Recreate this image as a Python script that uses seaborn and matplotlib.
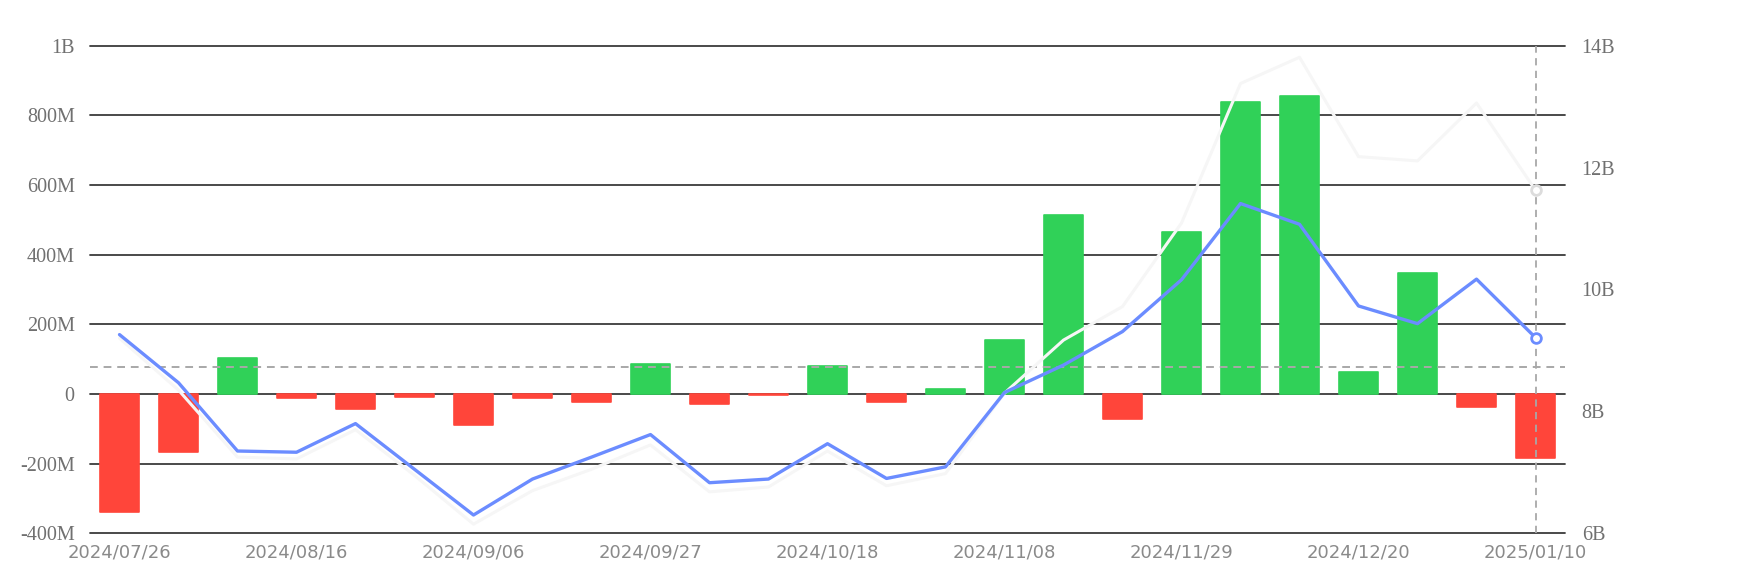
import matplotlib
matplotlib.use("Agg")
import matplotlib.pyplot as plt
import seaborn as sns
import pandas as pd
import numpy as np
from matplotlib.ticker import FixedLocator, FuncFormatter

dates = ["2024/07/26", "2024/08/02", "2024/08/09", "2024/08/16", "2024/08/23",
         "2024/08/30", "2024/09/06", "2024/09/13", "2024/09/20", "2024/09/27",
         "2024/10/04", "2024/10/11", "2024/10/18", "2024/10/25", "2024/11/01",
         "2024/11/08", "2024/11/15", "2024/11/22", "2024/11/29", "2024/12/06",
         "2024/12/13", "2024/12/20", "2024/12/27", "2025/01/03", "2025/01/10"]

# weekly net flow (millions)
net_flow_m = [-340, -167, 104, -12, -42, -10, -90, -11, -24, 85,
              -29, -3, 80, -22, 13, 156, 515, -73, 466, 837,
              855, 63, 348, -36, -183]

# blue line (billions, right axis)
blue_b = [9.26, 8.47, 7.35, 7.33, 7.80, 7.05, 6.30, 6.89, 7.25, 7.62,
          6.83, 6.89, 7.47, 6.90, 7.09, 8.31, 8.76, 9.31, 10.16, 11.41,
          11.07, 9.73, 9.44, 10.17, 9.21]

# light line (billions, right axis)
light_b = [9.20, 8.35, 7.25, 7.22, 7.70, 6.95, 6.15, 6.70, 7.05, 7.45,
           6.68, 6.76, 7.35, 6.78, 6.98, 8.30, 9.17, 9.72, 11.09, 13.38,
           13.81, 12.18, 12.11, 13.06, 11.63]

avg_line_m = 77

left_ticks_m = [-400, -200, 0, 200, 400, 600, 800, 1000]
right_ticks_b = [6, 8, 10, 12, 14]

GREEN = "#30D158"
RED = "#FF453A"
BLUE = "#6B8CFF"

sns.set_theme(style="white")
plt.rcParams["font.family"] = ["DejaVu Sans"]

df = pd.DataFrame({"date": dates, "flow": net_flow_m,
                   "sign": ["pos" if v >= 0 else "neg" for v in net_flow_m]})

fig = plt.figure(figsize=(17.38, 5.77), dpi=100)
ax = fig.add_axes([90 / 1738, 1 - 533.3 / 577, (1565 - 90) / 1738, (533.3 - 45.7) / 577])

# gridlines
for t in left_ticks_m:
    ax.axhline(t, color="#3a3a3a", lw=1.3, zorder=0.5, clip_on=False)

sns.barplot(data=df, x="date", y="flow", hue="sign",
            palette={"pos": GREEN, "neg": RED}, dodge=False, width=0.667,
            legend=False, ax=ax, zorder=2, saturation=1)
for p in ax.patches:
    p.set_edgecolor(p.get_facecolor())
    p.set_linewidth(1.2)
    p.set_joinstyle("round")

ax.axhline(avg_line_m, color="#a8a8a8", lw=1.4, ls=(0, (4, 3)), zorder=3)

ax.set_xlim(-0.5, len(dates) - 0.5)
ax.set_ylim(-400, 1000)
ax.yaxis.set_major_locator(FixedLocator(left_ticks_m))


def lfmt(v, pos):
    if v == 0:
        return "0"
    if abs(v) >= 1000:
        return f"{v/1000:g}B"
    return f"{v:g}M"


ax.yaxis.set_major_formatter(FuncFormatter(lfmt))
ax.set_xticks(range(0, len(dates), 3))
ax.set_xticklabels([dates[i] for i in range(0, len(dates), 3)])
ax.set_xlabel("")
ax.set_ylabel("")
for s in ax.spines.values():
    s.set_visible(False)
ax.tick_params(axis="y", length=0, pad=11, labelsize=14.5, labelcolor="#707070")
ax.tick_params(axis="x", length=0, pad=7, labelsize=13, labelcolor="#8a8a8a")
for lab in ax.get_yticklabels():
    lab.set_family("Liberation Serif")

ax2 = ax.twinx()
ax2.set_ylim(6, 14)
ax2.set_yticks(right_ticks_b)
ax2.set_yticklabels([f"{v}B" for v in right_ticks_b])
for s in ax2.spines.values():
    s.set_visible(False)
ax2.tick_params(axis="y", length=0, pad=12, labelsize=14.5, labelcolor="#707070")
for lab in ax2.get_yticklabels():
    lab.set_family("Liberation Serif")
ax2.grid(False)

xs = np.arange(len(dates))
sns.lineplot(x=xs, y=light_b, ax=ax2, color="#f6f6f6", lw=2.2, zorder=4)
sns.lineplot(x=xs, y=blue_b, ax=ax2, color=BLUE, lw=2.4, zorder=5)
ax2.plot([xs[-1]], [light_b[-1]], marker="o", ms=7, mfc="white", mec="#dcdcdc", mew=2, zorder=6)
ax2.plot([xs[-1]], [blue_b[-1]], marker="o", ms=7, mfc="white", mec=BLUE, mew=2, zorder=6)
ax2.axvline(xs[-1], color="#a8a8a8", lw=1.3, ls=(0, (4, 3)), zorder=3)
ax2.set_xlim(-0.5, len(dates) - 0.5)

fig.savefig("out.png", dpi=100)
